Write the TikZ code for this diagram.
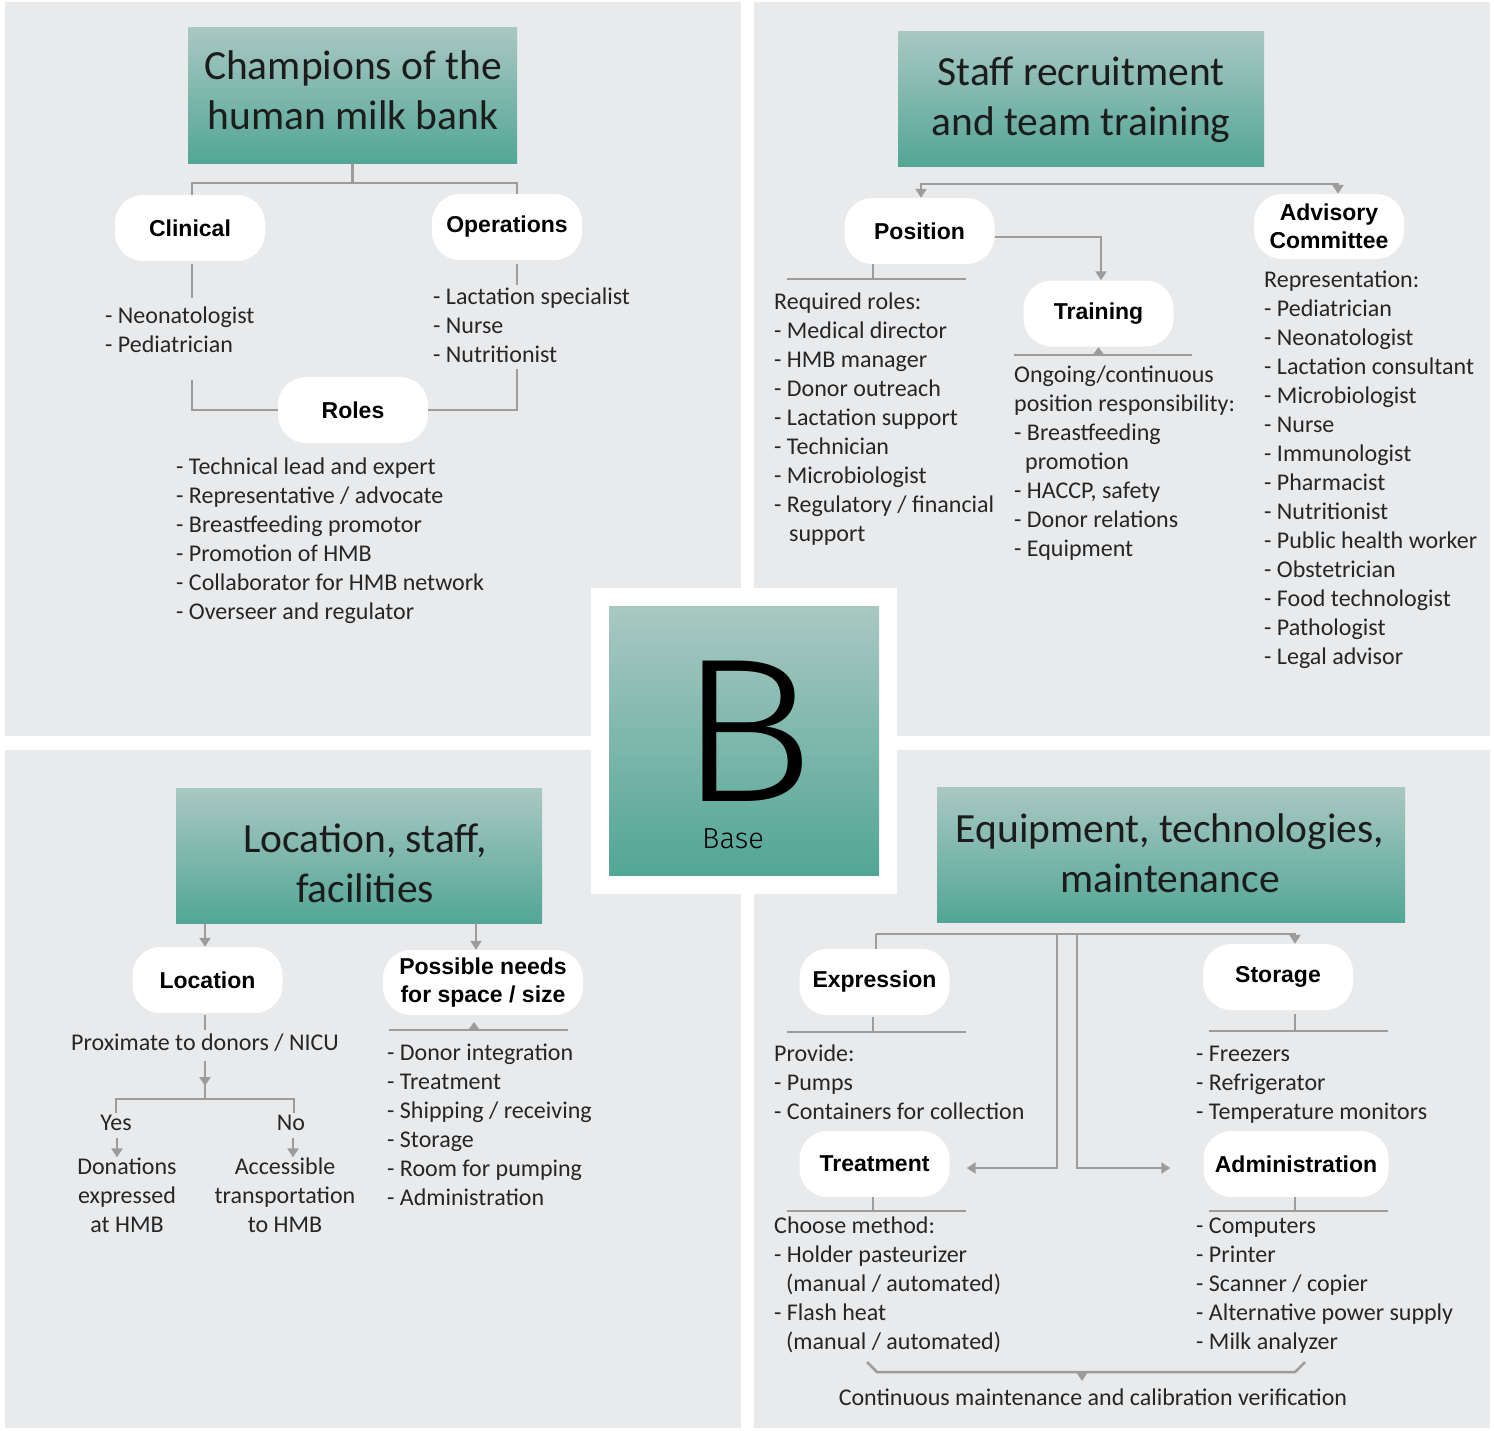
\documentclass[tikz,border=0pt]{standalone}
\usepackage{fontspec}
\usepackage{graphicx}
\setmainfont{Carlito}
\newfontfamily\hfont{Liberation Sans}
\IfFontExistsTF{Fira Sans Light}{\newfontfamily\lightB{Fira Sans Light}}{%
  \IfFontExistsTF{DejaVu Sans ExtraLight}{\newfontfamily\lightB{DejaVu Sans ExtraLight}}{\newfontfamily\lightB{Liberation Sans}}}
\usetikzlibrary{arrows.meta,calc}
\definecolor{panelgray}{HTML}{E9EAEC}
\definecolor{lgray}{HTML}{9C9C9C}
\definecolor{tealtop}{HTML}{A9C8C2}
\definecolor{tealbot}{HTML}{52A696}
\definecolor{txt}{HTML}{262626}
\definecolor{ttl}{HTML}{1C1C1C}
\tikzset{
  panel/.style={fill=panelgray, draw=none},
  titlebox/.style={top color=tealtop, bottom color=tealbot, draw=none, inner sep=0pt},
  titletext/.style={font=\fontsize{41.5}{50}\selectfont, align=center, text=ttl, inner sep=0pt},
  pill/.style={fill=white, rounded corners=28pt, minimum width=150pt, minimum height=66pt, inner sep=0pt, align=center, font=\hfont\bfseries\fontsize{23}{28.5}\selectfont},
  conn/.style={draw=lgray, line width=2.5pt},
  arr/.style={conn, -{Triangle[width=11pt,length=9pt]}},
  listtxt/.style={anchor=north west, align=left, inner sep=0pt, text=txt, font=\fontsize{24}{29}\selectfont},
  ctrtxt/.style={anchor=north, align=center, inner sep=0pt, text=txt, font=\fontsize{24}{29}\selectfont},
  onetxt/.style={anchor=base, inner sep=0pt, text=txt, font=\fontsize{24}{29}\selectfont}
}
\begin{document}
\begin{tikzpicture}[x=1pt,y=-1pt]
\useasboundingbox (0,0) rectangle (1494,1430);
\fill[white] (0,0) rectangle (1494,1430);
% panels
\fill[panel] (5,2) rectangle (741,736);
\fill[panel] (754,2) rectangle (1490,736);
\fill[panel] (5,750) rectangle (741,1428);
\fill[panel] (754,750) rectangle (1490,1428);

% ================= top-left =================
\node[titlebox, minimum width=329pt, minimum height=136pt] (t1) at (352.5,95) {};
\node[titletext] (t1t) at (353,90) {Champions of the\\human milk bank};
\node[pill] (clin) at (190,228) {Clinical};
\node[pill] (ops) at (507,227) {Operations};
\node[pill] (roles) at (353,410) {Roles};
\node[listtxt] (clinL) at (105,303) {\strut- Neonatologist\\- Pediatrician};
\node[listtxt] (opsL) at (433,284) {\strut- Lactation specialist\\- Nurse\\- Nutritionist};
\node[listtxt] (rolesL) at (176,454) {\strut- Technical lead and expert\\- Representative / advocate\\- Breastfeeding promotor\\- Promotion of HMB\\- Collaborator for HMB network\\- Overseer and regulator};
\coordinate (tlj) at (352.5,183);
\draw[conn] (t1.south) -- (tlj);
\draw[conn] ($(clin.north)+(2,0)$) |- (tlj) -| ($(ops.north)+(10,0)$);
\draw[conn] ($(clin.south)+(2,3)$) -- ++(0,34);
\draw[conn] ($(ops.south)+(10,4)$) -- ++(0,21);
\coordinate (clC) at (192,380);
\coordinate (opC) at (517,369);
\draw[conn] (clC) |- (roles.west);
\draw[conn] (opC) |- (roles.east);

% ================= top-right =================
\node[titlebox, minimum width=366pt, minimum height=135pt] (t2) at (1081,98.5) {};
\node[titletext] (t2t) at (1081,100) {Staff recruitment\\and team training};
\node[pill] (pos) at (919.5,231) {Position};
\node[pill] (train) at (1098.5,313.5) {Training};
\node[pill, minimum height=65pt] (adv) at (1329,226.5) {Advisory\\Committee};
\coordinate (trj) at (1130,184);
\draw[arr] (trj) -| ($(pos.north)+(1.5,0)$);
\draw[arr] (trj) -| ($(adv.north)+(9,0)$);
\draw[arr] ($(pos.east)+(0,6)$) -| ($(train.north)+(2.5,0)$);
\draw[conn] ($(pos.south)+(-46.5,0)$) -- ++(0,15);
\draw[conn] ($(pos.south)+(-132.5,15)$) -- ++(179,0);
\draw[conn] ($(train.south)+(-84.5,8.5)$) -- ++(178,0);
\fill[lgray] ($(train.south)+(-6,8.5)$) -- ++(6,-8) -- ++(6,8) -- cycle;
\node[listtxt] (reqL) at (774,289) {\strut Required roles:\\- Medical director\\- HMB manager\\- Donor outreach\\- Lactation support\\- Technician\\- Microbiologist\\- Regulatory / financial\\\hspace*{15pt}support};
\node[listtxt] (trainL) at (1014,362) {\strut Ongoing/continuous\\position responsibility:\\- Breastfeeding\\\hspace*{11pt}promotion\\- HACCP, safety\\- Donor relations\\- Equipment};
\node[listtxt] (repL) at (1264,267) {\strut Representation:\\- Pediatrician\\- Neonatologist\\- Lactation consultant\\- Microbiologist\\- Nurse\\- Immunologist\\- Pharmacist\\- Nutritionist\\- Public health worker\\- Obstetrician\\- Food technologist\\- Pathologist\\- Legal advisor};

% ================= bottom-left =================
\node[titlebox, minimum width=366pt, minimum height=135pt] (t3) at (359,855.5) {};
\node[titletext] (t3t) at (365,863) {Location, staff,\\facilities};
\node[pill] (loc) at (207.5,980) {Location};
\node[pill, minimum width=200pt, minimum height=65pt] (needs) at (483,982.5) {Possible needs\\for space / size};
\coordinate (locA) at ($(loc.north)+(-2.5,0)$);
\draw[arr] (t3.south -| locA) -- (locA);
\coordinate (needA) at ($(needs.north)+(-7,0)$);
\draw[arr] (t3.south -| needA) -- (needA);
\draw[conn] ($(loc.south)+(-2.5,2)$) -- ++(0,15);
\node[onetxt] (prox) at (205,1050) {Proximate to donors / NICU};
\coordinate (pA) at (205,1061);
\coordinate (pB) at (205,1086);
\coordinate (yn) at (205,1099);
\draw[conn] (pA) -- (yn);
\draw[arr] (pA) -- (pB);
\node[onetxt] (yes) at (116,1130) {Yes};
\node[onetxt] (no) at (291,1130) {No};
\draw[conn] ($(yes.north)+(0,-1)$) |- (yn) -| ($(no.north)+(3,-1)$);
\draw[arr] ($(yes.south)+(1,8)$) -- ++(0,19);
\draw[arr] ($(no.south)+(2,8)$) -- ++(0,19);
\node[ctrtxt] (don) at (127,1154) {\strut Donations\\expressed\\at HMB};
\node[ctrtxt] (acc) at (285,1154) {\strut Accessible\\transportation\\to HMB};
\draw[conn] ($(needs.south)+(-94,15)$) -- ++(179,0);
\fill[lgray] ($(needs.south)+(-15,15)$) -- ++(6,-8) -- ++(6,8) -- cycle;
\node[listtxt] (needL) at (387,1040) {\strut- Donor integration\\- Treatment\\- Shipping / receiving\\- Storage\\- Room for pumping\\- Administration};

% ================= bottom-right =================
\node[titlebox, minimum width=468pt, minimum height=135pt] (t4) at (1171,854.5) {};
\node[titletext] (t4t) at (1170,853.5) {Equipment, technologies,\\maintenance};
\node[pill] (expr) at (874.5,982) {Expression};
\node[pill] (stor) at (1278,977) {Storage};
\node[pill] (treat) at (874.5,1164) {Treatment};
\node[pill, minimum width=185pt] (admin) at (1296,1164) {Administration};
\coordinate (brL) at ($(expr.north)+(1.5,-15)$);
\draw[conn] ($(expr.north)+(1.5,0)$) -- (brL);
\draw[arr] (brL) -| ($(stor.north)+(17,0)$);
\coordinate (v1) at (1057,934);
\coordinate (v2) at (1077,934);
\draw[arr] (v1) |- ($(treat.east)+(17,4)$);
\draw[arr] (v2) |- ($(admin.west)+(-33,4)$);
\draw[conn] ($(expr.south)+(-1.5,2)$) -- ++(0,15);
\draw[conn] ($(expr.south)+(-87.5,17)$) -- ++(179,0);
\draw[conn] ($(stor.south)+(17,4)$) -- ++(0,17);
\draw[conn] ($(stor.south)+(-69,21)$) -- ++(179,0);
\draw[conn] ($(treat.south)+(-1.5,0)$) -- ++(0,14);
\draw[conn] ($(treat.south)+(-87.5,14)$) -- ++(179,0);
\draw[conn] ($(admin.south)+(-1,0)$) -- ++(0,14);
\draw[conn] ($(admin.south)+(-87,14)$) -- ++(179,0);
\node[listtxt] (exprL) at (774,1041) {\strut Provide:\\- Pumps\\- Containers for collection};
\node[listtxt] (storL) at (1196,1041) {\strut- Freezers\\- Refrigerator\\- Temperature monitors};
\node[listtxt] (treatL) at (774,1213) {\strut Choose method:\\- Holder pasteurizer\\\hspace*{12pt}(manual / automated)\\- Flash heat\\\hspace*{12pt}(manual / automated)};
\node[listtxt] (adminL) at (1196,1213) {\strut- Computers\\- Printer\\- Scanner / copier\\- Alternative power supply\\- Milk analyzer};
\coordinate (bk1) at (867,1362);
\coordinate (bk2) at (1305,1362);
\draw[conn] (bk1) -- ++(10,10) -- ++(418,0) -- (bk2);
\fill[lgray] (1076,1372) -- ++(6,9) -- ++(6,-9) -- cycle;
\node[onetxt] (maint) at (1093,1405) {Continuous maintenance and calibration verification};

% ================= centre =================
\node[fill=white, minimum size=306pt, inner sep=0pt] (baseframe) at (744,740.5) {};
\node[titlebox, minimum width=270pt, minimum height=269pt] (basebox) at (744,740.5) {};
\node[font=\lightB\fontsize{205}{205}\selectfont, anchor=base, inner sep=0pt] (bigB) at (746,801) {\scalebox{1.12}[1]{B}};
\node[font=\lightB\fontsize{29}{30}\selectfont, anchor=base, inner sep=0pt] (basetxt) at (733,848) {Base};
\end{tikzpicture}
\end{document}
